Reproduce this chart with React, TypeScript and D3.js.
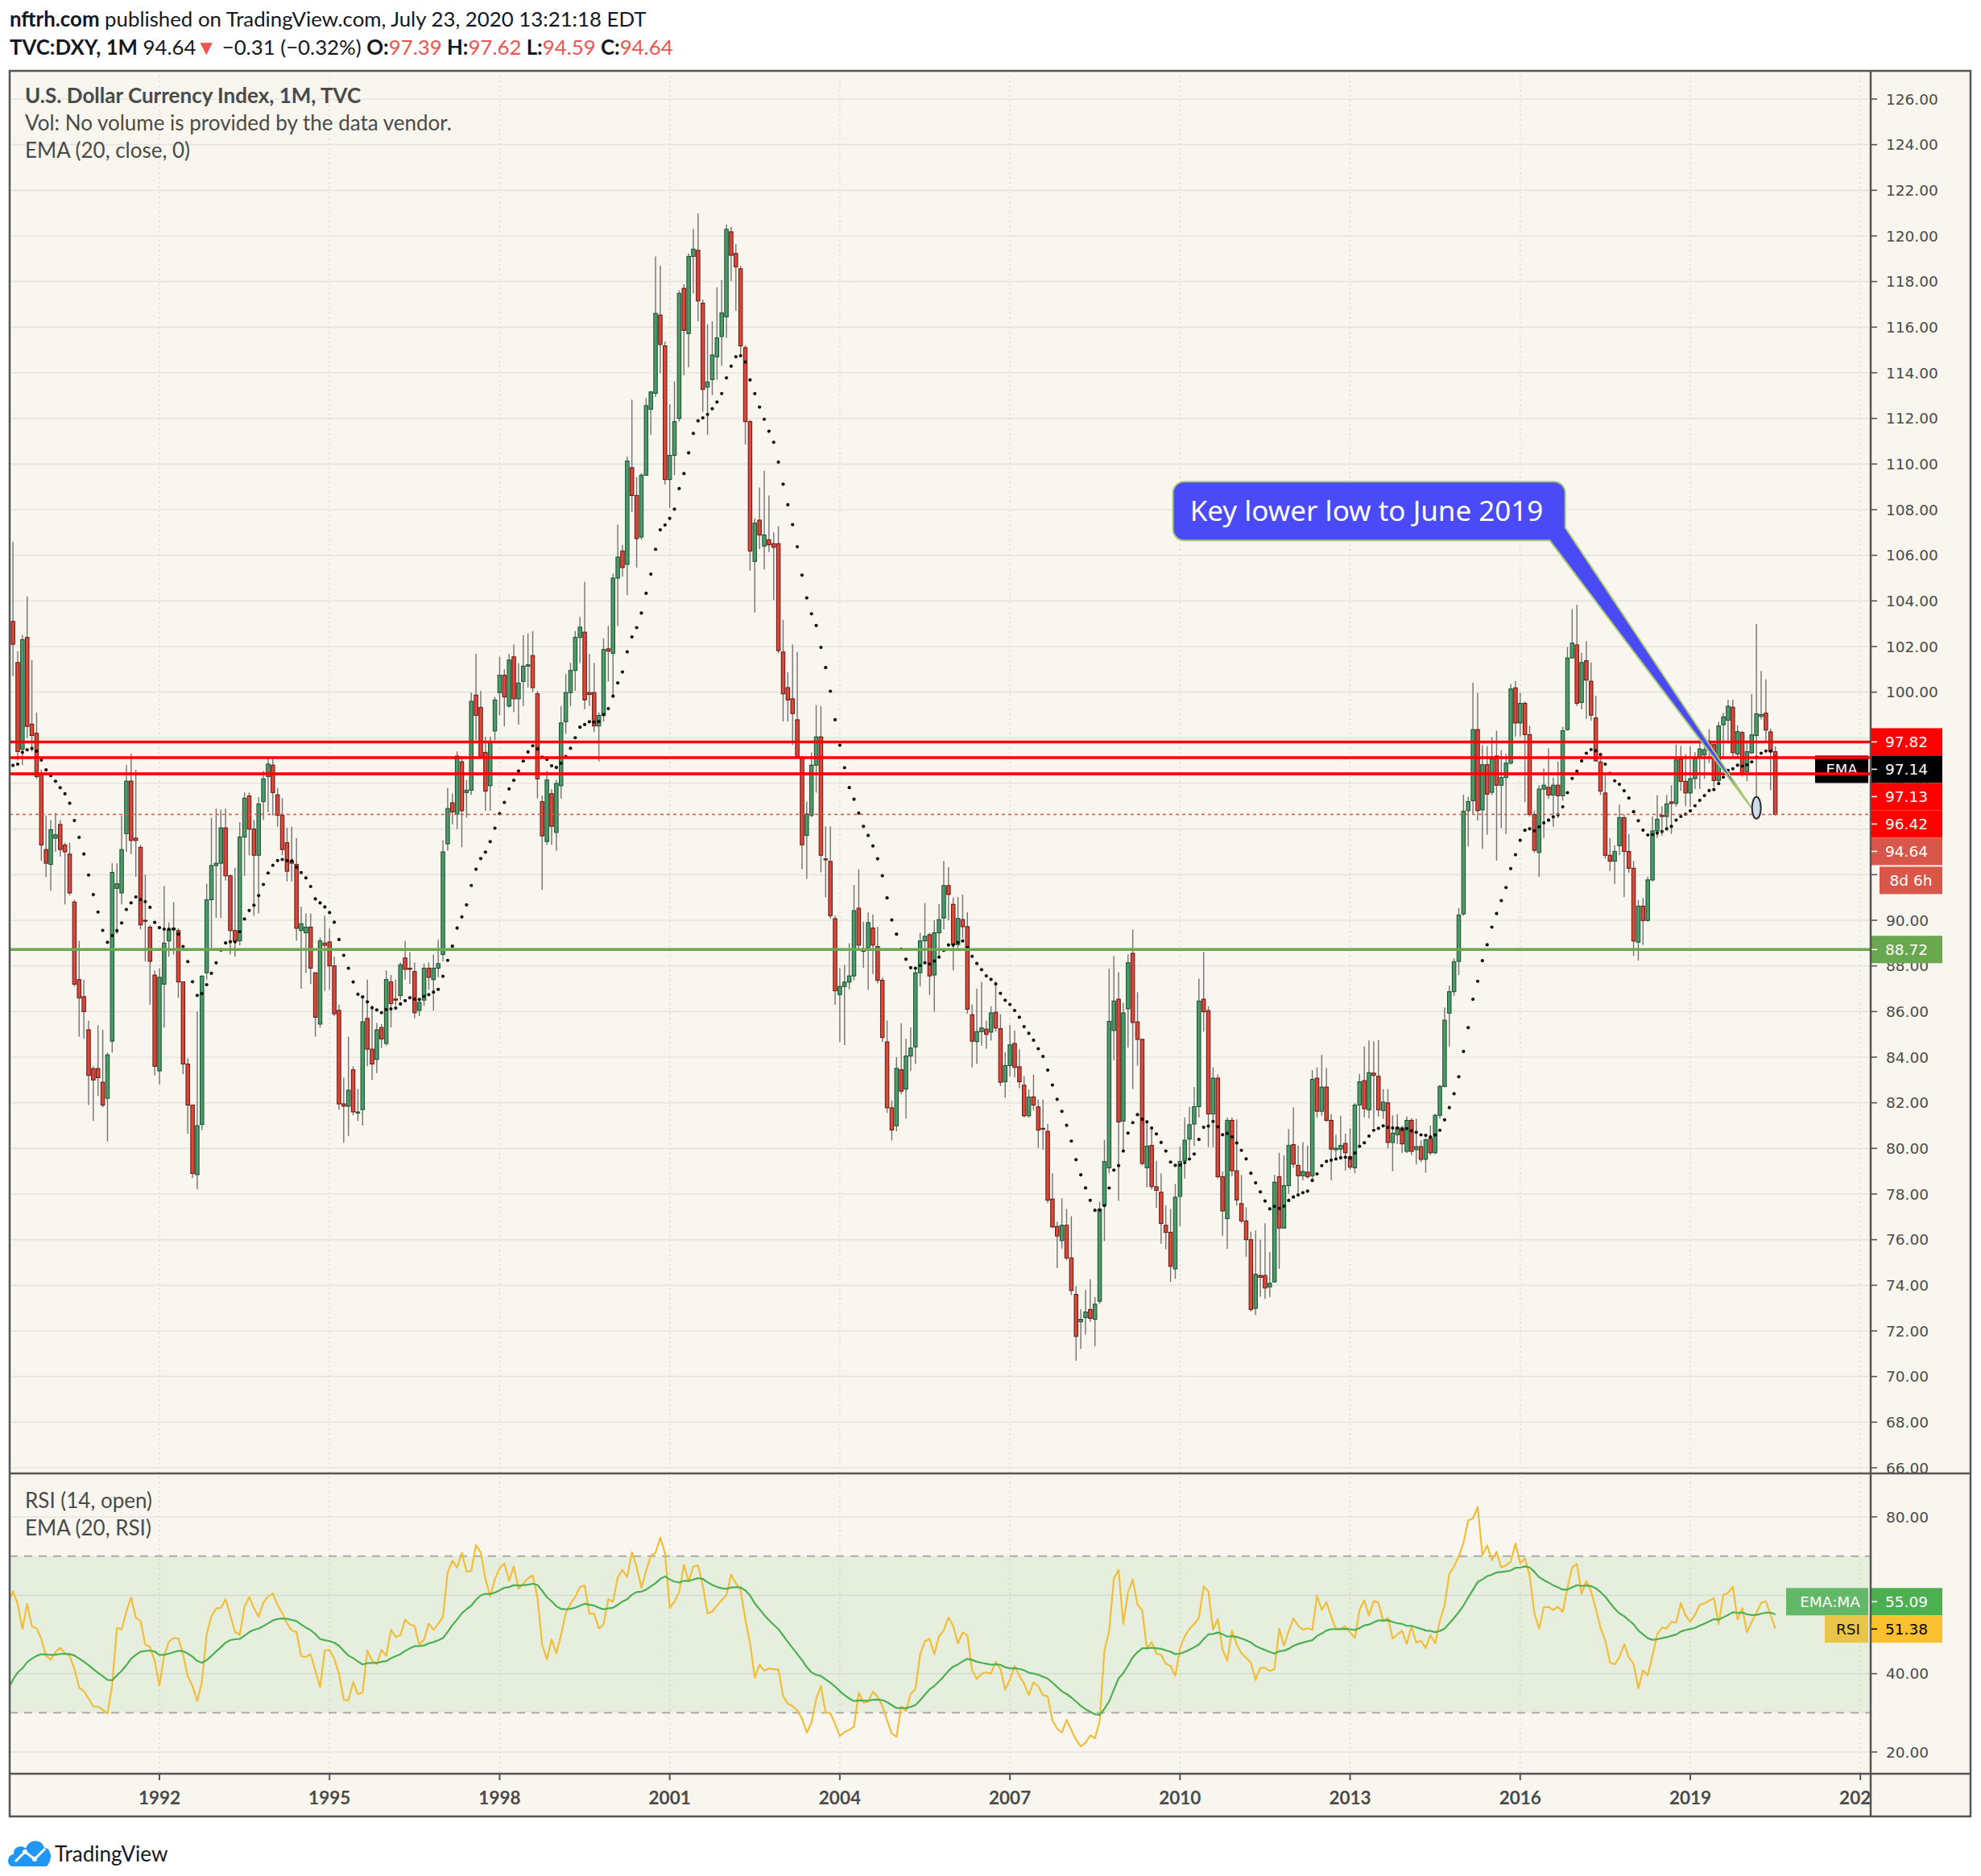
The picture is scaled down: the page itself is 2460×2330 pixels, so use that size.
import React from "react";
import * as d3 from "d3";

// ---------- DATA (monthly DXY, May 1987 .. Jul 2020) ----------
const FIRST_YEAR = 1987;
const FIRST_MONTH = 5;

const opens = [
  93.5, 94.9, 96.2, 98.3, 96.0, 96.9, 91.6, 87.8,
  86.7, 89.7, 89.8, 87.3, 87.2, 90.7, 94.9, 98.8, 100.0, 98.6, 95.1, 91.6,
  94.1, 98.1, 96.2, 100.0, 100.6, 103.1, 101.3, 97.5, 102.4, 98.6, 98.2, 96.4,
  93.1, 92.45, 93.6, 94.2, 93.3, 92.9, 90.8, 87.4, 86.65, 85.2, 83.5, 83.5,
  82.9, 82.2, 84.7, 91.4, 91.2, 93.8, 96.1, 93.6, 93.2, 90.0, 89.7, 87.6,
  83.4, 87.2, 89.1, 89.6, 89.55, 87.3, 83.7, 81.9, 78.85, 81.05, 87.7, 90.9,
  92.4, 92.5, 94.05, 91.95, 89.55, 89.1, 93.65, 95.45, 94.0, 92.85, 95.2, 96.3,
  96.8, 95.5, 94.6, 93.4, 92.6, 92.45, 89.55, 89.45, 89.7, 87.7, 85.45, 89.0,
  89.05, 88.0, 86.05, 81.95, 81.85, 83.45, 81.55, 81.7, 85.7, 84.35, 83.9, 85.3,
  84.6, 87.3, 86.55, 86.7, 88.35, 87.9, 87.75, 86.05, 86.5, 87.9, 87.4, 87.9,
  88.5, 93.35, 95.15, 94.65, 96.95, 95.6, 95.7, 99.87, 99.33, 97.36, 95.9, 98.3,
  99.98, 100.74, 99.39, 101.55, 99.71, 100.47, 101.14, 101.6, 99.93, 95.2, 93.45, 95.55,
  93.85, 95.9, 98.7, 99.98, 100.95, 102.4, 102.63, 99.98, 99.98, 98.52, 98.98, 101.9,
  101.7, 105.0, 106.19, 105.6, 109.84, 108.62, 106.8, 109.51, 112.4, 113.1, 116.53, 115.18,
  109.32, 110.38, 112.0, 117.7, 115.72, 119.1, 119.37, 117.05, 113.37, 113.7, 114.7, 115.59,
  116.45, 120.18, 119.23, 118.56, 115.1, 111.86, 105.73, 107.54, 106.4, 106.68, 106.51, 106.51,
  101.76, 100.2, 99.71, 98.79, 97.09, 93.72, 94.6, 96.8, 98.04, 92.69, 92.58, 90.07,
  86.74, 87.1, 87.29, 87.56, 90.53, 88.7, 88.8, 89.66, 88.85, 87.37, 84.67, 81.78,
  80.99, 83.45, 82.6, 84.05, 84.45, 87.7, 89.1, 89.37, 87.6, 89.45, 90.1, 91.52,
  90.7, 88.93, 90.03, 89.72, 85.86, 84.68, 85.12, 85.23, 85.1, 85.97, 85.25, 82.92,
  83.63, 84.6, 83.58, 82.77, 81.43, 82.26, 81.82, 80.88, 80.75, 77.78, 76.58, 75.96,
  76.63, 75.2, 73.6, 72.4, 72.58, 72.94, 72.51, 73.3, 77.5, 79.15, 85.17, 86.54,
  81.2, 86.12, 88.55, 85.55, 84.78, 79.15, 80.13, 78.32, 78.08, 76.63, 76.32, 74.72,
  77.9, 79.47, 80.41, 81.07, 81.83, 86.54, 86.04, 81.51, 83.08, 78.76, 76.92, 81.23,
  79.02, 77.58, 76.82, 76.0, 72.99, 74.43, 74.43, 73.93, 74.15, 78.76, 76.51, 78.37,
  80.17, 79.26, 78.8, 78.96, 78.8, 83.08, 81.63, 82.69, 81.23, 79.94, 79.97, 80.22,
  79.65, 79.15, 81.9, 82.97, 81.69, 83.3, 83.16, 81.66, 82.0, 80.26, 80.6, 80.9,
  79.87, 81.23, 79.95, 80.08, 79.52, 80.43, 79.81, 81.45, 82.72, 85.93, 86.87, 88.2,
  90.28, 94.81, 95.24, 98.36, 94.84, 96.82, 95.61, 97.2, 95.92, 96.26, 96.89, 100.19,
  98.65, 99.51, 98.14, 94.64, 92.97, 95.75, 95.83, 95.49, 95.92, 95.46, 98.36, 101.5,
  102.07, 99.55, 101.38, 100.48, 98.87, 96.94, 95.58, 92.85, 92.59, 93.27, 94.5, 93.02,
  92.28, 89.04, 90.62, 89.99, 91.77, 93.92, 94.6, 94.55, 95.19, 95.12, 97.06, 96.09,
  95.58, 96.21, 97.12, 97.25, 97.5, 97.7, 96.13, 98.57, 98.77, 99.34, 97.29, 98.23,
  96.52, 97.34, 98.1, 98.94, 99.08, 98.26, 97.39,
];

const highs = [
  95.5, 96.5, 98.8, 99.4, 97.8, 97.6, 92.0, 88.3,
  90.0, 90.6, 90.0, 88.5, 90.9, 95.3, 99.0, 101.5, 101.0, 98.8, 95.5, 94.6,
  98.4, 98.5, 100.4, 101.2, 104.9, 106.6, 101.8, 102.5, 104.2, 101.4, 99.1, 96.6,
  94.6, 94.4, 94.7, 94.4, 93.4, 93.4, 90.9, 89.1, 87.4, 85.6, 83.6, 85.4,
  85.2, 84.2, 92.5, 92.5, 94.6, 96.8, 97.3, 96.6, 93.3, 92.0, 89.8, 87.8,
  87.9, 91.5, 89.9, 90.8, 89.65, 87.3, 83.95, 81.9, 86.0, 87.6, 91.6, 94.5,
  94.9, 94.85, 94.9, 92.0, 92.3, 94.3, 95.6, 95.6, 94.4, 95.4, 96.55, 97.1,
  97.1, 95.8, 95.35, 94.05, 94.1, 93.6, 90.6, 90.3, 90.3, 87.7, 89.25, 90.2,
  89.65, 88.4, 86.3, 83.1, 84.9, 83.6, 82.6, 86.65, 87.4, 86.25, 85.5, 85.45,
  87.8, 87.6, 87.4, 88.15, 89.1, 88.6, 88.15, 86.55, 88.1, 88.15, 88.5, 89.15,
  93.5, 95.8, 95.55, 97.4, 97.2, 96.15, 99.98, 101.68, 100.06, 98.04, 98.04, 99.79,
  101.55, 101.0, 101.68, 102.09, 101.28, 102.49, 102.57, 102.68, 100.06, 95.47, 96.55, 95.74,
  96.15, 99.39, 100.79, 101.28, 102.68, 103.3, 104.84, 101.68, 101.28, 99.12, 102.36, 102.9,
  105.19, 107.35, 106.46, 110.32, 112.83, 109.43, 109.59, 112.89, 113.21, 119.1, 118.69, 115.37,
  112.62, 113.62, 117.61, 117.88, 119.23, 120.31, 120.99, 117.21, 116.13, 116.26, 117.75, 118.07,
  120.5, 120.4, 119.64, 118.69, 115.2, 111.94, 107.62, 108.97, 109.7, 108.62, 107.0, 107.27,
  103.17, 100.87, 102.09, 101.76, 97.2, 95.2, 97.36, 99.44, 99.39, 94.12, 94.12, 90.2,
  87.91, 88.04, 88.99, 91.55, 92.23, 89.93, 90.34, 90.26, 89.72, 87.5, 85.61, 82.1,
  84.0, 85.48, 84.8, 85.3, 87.95, 89.45, 90.75, 89.45, 90.0, 90.71, 92.6, 92.33,
  91.0, 91.02, 91.13, 90.35, 86.3, 87.01, 87.3, 85.6, 86.23, 87.33, 85.88, 84.21,
  85.41, 85.17, 84.34, 83.16, 82.58, 83.24, 82.14, 82.14, 81.07, 78.91, 76.79, 77.81,
  77.35, 77.03, 73.96, 72.94, 73.8, 74.27, 73.48, 77.66, 80.38, 87.88, 88.43, 87.72,
  86.38, 88.5, 89.6, 86.85, 84.81, 81.23, 80.96, 79.46, 78.91, 77.5, 77.35, 78.44,
  80.09, 81.35, 81.82, 82.69, 87.45, 88.61, 86.23, 83.55, 83.24, 78.99, 81.35, 81.35,
  81.27, 78.84, 77.42, 76.35, 76.4, 76.0, 76.71, 75.46, 78.84, 79.81, 79.7, 80.85,
  81.8, 80.13, 80.28, 80.13, 83.43, 83.55, 84.1, 83.52, 81.51, 80.6, 81.43, 80.65,
  80.88, 81.98, 83.27, 84.47, 84.73, 84.7, 84.75, 82.6, 82.6, 81.45, 81.5, 81.0,
  81.4, 81.33, 81.3, 80.35, 80.45, 81.0, 81.52, 82.78, 86.18, 87.13, 88.33, 90.54,
  95.5, 95.41, 100.41, 99.97, 97.68, 97.63, 98.02, 98.31, 97.46, 97.29, 100.36, 100.48,
  99.97, 99.59, 98.53, 94.81, 95.92, 96.65, 97.54, 96.26, 96.95, 98.48, 101.98, 103.64,
  103.83, 101.73, 102.24, 101.3, 99.85, 97.2, 96.43, 93.6, 93.27, 95.07, 94.64, 93.78,
  92.6, 90.88, 90.97, 91.91, 94.55, 95.49, 95.0, 95.49, 95.92, 97.71, 97.63, 97.28,
  97.63, 97.37, 98.0, 97.8, 98.37, 97.8, 98.7, 99.1, 99.67, 99.67, 98.55, 98.3,
  97.9, 99.91, 102.99, 100.93, 100.56, 98.4, 97.62,
];

const lows = [
  92.8, 94.3, 95.8, 95.5, 94.8, 91.2, 87.3, 85.8,
  85.6, 88.5, 86.5, 86.6, 87.0, 90.4, 94.3, 97.8, 97.0, 94.5, 90.9, 91.0,
  93.5, 95.5, 96.0, 98.8, 100.2, 100.7, 97.0, 96.8, 98.0, 97.4, 96.2, 92.6,
  91.9, 91.3, 93.0, 92.8, 90.7, 91.1, 87.1, 84.9, 84.8, 81.9, 81.2, 82.3,
  81.8, 80.3, 84.2, 89.4, 90.7, 93.0, 92.9, 91.9, 89.6, 88.2, 86.3, 83.2,
  82.8, 85.3, 88.4, 88.5, 86.6, 83.25, 80.65, 78.7, 78.2, 80.8, 87.4, 88.7,
  90.1, 90.1, 91.75, 88.5, 88.4, 88.9, 91.95, 92.85, 90.2, 90.3, 94.4, 94.75,
  94.6, 94.1, 92.85, 91.7, 91.7, 89.1, 87.0, 87.7, 87.2, 84.9, 85.3, 86.9,
  86.95, 85.8, 81.7, 80.25, 80.55, 81.45, 81.2, 81.0, 83.6, 83.0, 83.3, 84.4,
  84.5, 85.3, 86.25, 86.5, 87.4, 87.2, 85.7, 85.8, 86.25, 86.95, 86.05, 87.5,
  88.2, 93.05, 94.2, 94.0, 93.2, 94.5, 95.5, 97.9, 97.09, 94.8, 94.8, 97.9,
  98.98, 98.5, 99.33, 99.12, 98.58, 99.39, 100.2, 100.0, 95.34, 91.34, 93.31, 93.31,
  93.04, 95.34, 98.17, 99.39, 100.06, 101.28, 99.25, 99.39, 98.25, 96.96, 98.71, 100.47,
  99.79, 102.9, 105.06, 104.25, 107.89, 105.46, 106.68, 109.51, 111.27, 112.94, 113.97, 109.1,
  108.08, 109.51, 111.86, 113.89, 114.24, 117.48, 116.26, 112.29, 111.27, 113.02, 113.7, 114.3,
  115.53, 118.02, 116.72, 114.72, 110.86, 105.33, 103.49, 106.27, 105.38, 106.14, 104.03, 101.7,
  98.71, 98.71, 97.68, 97.09, 92.23, 91.82, 94.52, 95.6, 92.1, 91.01, 90.07, 86.29,
  84.67, 84.53, 86.96, 87.37, 88.72, 87.91, 86.96, 87.64, 87.23, 84.67, 81.56, 80.35,
  80.75, 82.37, 81.3, 83.4, 83.7, 87.1, 88.1, 86.73, 85.99, 88.43, 89.6, 90.0,
  87.8, 88.8, 89.21, 85.9, 83.55, 83.7, 84.5, 84.37, 84.73, 85.12, 82.73, 82.22,
  83.16, 83.11, 82.64, 81.35, 81.35, 81.67, 80.02, 79.94, 77.6, 76.51, 74.75, 75.61,
  75.1, 73.57, 70.69, 71.21, 71.84, 72.4, 71.32, 73.18, 75.93, 78.9, 83.86, 77.7,
  79.94, 84.42, 82.6, 83.63, 79.25, 78.29, 78.2, 77.39, 75.82, 75.57, 74.15, 74.28,
  76.59, 78.68, 79.62, 80.1, 81.35, 85.12, 80.06, 80.05, 78.68, 76.16, 75.6, 78.79,
  77.5, 76.72, 75.25, 72.85, 72.7, 73.5, 73.4, 73.49, 74.11, 74.72, 76.48, 78.02,
  79.15, 78.05, 78.6, 78.68, 78.6, 81.35, 81.43, 81.16, 78.6, 79.5, 79.5, 79.03,
  79.07, 78.91, 80.07, 81.36, 81.32, 80.9, 81.4, 81.3, 80.0, 79.0, 80.2, 79.8,
  79.8, 79.7, 79.3, 79.4, 78.93, 79.7, 79.75, 81.3, 82.68, 84.47, 86.69, 87.6,
  90.2, 93.24, 94.64, 94.38, 93.13, 93.75, 95.49, 92.62, 94.04, 93.78, 96.83, 98.06,
  98.06, 95.18, 94.55, 92.96, 91.91, 93.61, 95.32, 94.09, 94.47, 95.24, 98.31, 101.5,
  99.39, 99.25, 98.82, 98.74, 96.95, 95.49, 92.7, 92.16, 91.6, 92.85, 91.02, 92.08,
  88.44, 88.23, 88.92, 89.94, 91.7, 93.61, 93.7, 93.96, 93.78, 94.98, 95.67, 95.0,
  94.98, 95.75, 95.75, 96.2, 96.9, 95.84, 95.99, 97.1, 97.8, 97.1, 97.1, 96.3,
  96.1, 97.3, 94.65, 98.81, 97.8, 95.7, 94.59,
];

const closes = [
  94.9, 96.2, 98.3, 96.0, 96.9, 91.6, 87.8, 86.7,
  89.7, 89.8, 87.3, 87.2, 90.7, 94.9, 98.8, 100.0, 98.6, 95.1, 91.6, 94.1,
  98.1, 96.2, 100.0, 100.6, 103.1, 102.1, 97.4, 102.3, 98.5, 98.1, 96.3, 93.3,
  92.5, 93.97, 93.75, 93.1, 93.0, 91.2, 87.2, 86.6, 86.0, 83.2, 83.0, 83.1,
  81.9, 84.1, 92.1, 91.6, 93.1, 96.1, 93.5, 93.5, 89.8, 89.97, 88.2, 83.6,
  87.5, 89.0, 89.6, 89.65, 87.3, 83.7, 81.9, 78.9, 81.0, 87.55, 90.9, 92.4,
  92.5, 94.05, 91.95, 89.55, 89.07, 93.65, 95.35, 94.0, 92.85, 95.1, 96.2, 96.85,
  95.6, 94.6, 93.1, 92.15, 92.5, 89.65, 89.85, 89.7, 87.9, 85.75, 89.1, 88.9,
  88.0, 85.9, 81.95, 81.85, 82.55, 81.6, 81.6, 85.55, 84.35, 83.7, 85.2, 84.8,
  87.4, 86.35, 86.5, 88.05, 87.85, 87.85, 85.95, 86.4, 87.9, 87.5, 87.9, 88.1,
  93.0, 94.9, 94.75, 97.2, 94.8, 95.7, 99.6, 98.98, 97.17, 95.66, 97.8, 99.66,
  100.74, 99.79, 101.41, 99.71, 100.4, 101.14, 101.2, 100.2, 96.2, 93.7, 96.15, 94.12,
  96.0, 98.65, 99.98, 100.95, 102.4, 102.85, 99.66, 99.9, 98.52, 98.98, 101.87, 101.8,
  105.0, 105.92, 105.46, 110.13, 108.62, 106.73, 109.51, 112.56, 113.16, 116.6, 115.24, 109.32,
  110.38, 111.86, 117.48, 115.86, 119.1, 119.42, 117.15, 113.27, 113.6, 114.78, 115.53, 116.62,
  120.29, 119.15, 118.64, 115.18, 111.86, 106.19, 107.41, 106.89, 106.89, 106.46, 106.35, 101.82,
  99.93, 99.66, 99.06, 97.17, 93.31, 94.66, 96.8, 98.04, 92.85, 92.66, 90.2, 86.91,
  87.1, 87.29, 87.56, 90.42, 88.91, 88.64, 89.9, 88.91, 87.37, 84.86, 81.78, 80.81,
  83.51, 82.51, 84.05, 84.4, 87.7, 89.1, 89.3, 87.56, 89.45, 90.03, 91.52, 91.13,
  88.93, 90.08, 89.72, 86.1, 84.7, 85.12, 85.28, 85.0, 85.94, 85.28, 82.9, 83.63,
  84.54, 83.55, 82.92, 81.43, 82.25, 81.9, 80.8, 80.85, 77.73, 76.56, 76.16, 76.63,
  75.2, 73.77, 71.76, 72.51, 72.83, 72.55, 73.17, 77.34, 79.42, 85.57, 86.46, 81.16,
  85.94, 88.14, 85.52, 84.78, 79.34, 80.1, 78.33, 78.16, 76.71, 76.32, 74.83, 77.86,
  79.43, 80.36, 81.04, 81.83, 86.46, 85.99, 81.51, 83.08, 78.76, 77.26, 81.23, 79.02,
  77.74, 76.82, 76.0, 72.94, 74.48, 74.35, 73.88, 74.09, 78.52, 76.51, 78.37, 80.13,
  79.31, 78.8, 78.99, 78.76, 83.03, 81.63, 82.69, 81.23, 79.97, 80.01, 80.13, 79.81,
  79.18, 81.9, 82.92, 81.74, 83.32, 83.2, 81.69, 82.03, 80.26, 80.67, 80.9, 80.2,
  81.23, 79.87, 80.08, 79.52, 80.38, 79.81, 81.45, 82.72, 85.62, 86.87, 88.18, 90.23,
  94.78, 95.2, 98.36, 94.81, 96.82, 95.53, 97.06, 95.92, 96.26, 96.89, 100.14, 98.65,
  99.51, 98.14, 94.64, 93.07, 95.75, 95.92, 95.49, 95.92, 95.46, 98.31, 101.5, 102.15,
  99.51, 101.3, 100.53, 98.99, 96.99, 95.66, 92.85, 92.59, 93.02, 94.5, 93.02, 92.28,
  89.09, 90.62, 89.99, 91.77, 93.92, 94.43, 94.55, 95.1, 95.12, 97.03, 96.09, 95.58,
  96.21, 97.12, 97.51, 97.48, 97.75, 96.13, 98.52, 98.92, 99.38, 97.35, 98.27, 96.39,
  97.39, 98.13, 99.05, 99.02, 98.34, 97.39, 94.64,
];

const priceTicks = d3.range(66, 127, 2);
const rsiTicks = [20, 40, 60, 80];
const rsiBand = [30, 70];
const yearTicks = [1992, 1995, 1998, 2001, 2004, 2007, 2010, 2013, 2016, 2019, 2022];
const redLevels = [97.82, 97.13, 96.42];
const greenLevel = 88.72;
const lastClose = 94.64;
const emaLabelValue = 97.14;
const countdownText = "8d 6h";
const rsiLabelValue = 51.38;
const rsiEmaLabelValue = 55.09;
const calloutText = "Key lower low to June 2019";
const calloutTarget = { year: 2020, month: 3, value: 94.93 };

// ---------- helpers ----------
const monthIdx = (y: number, m: number) => (y - FIRST_YEAR) * 12 + (m - FIRST_MONTH);

// EMA seeded with the first value (price EMA)
function emaSeries(src: (number | null)[], len: number) {
  const a = 2 / (len + 1);
  const out: (number | null)[] = [];
  let prev: number | null = null;
  for (const v of src) {
    if (v == null) { out.push(null); continue; }
    prev = prev == null ? v : a * v + (1 - a) * prev;
    out.push(prev);
  }
  return out;
}
// EMA with a zero start (nz of the previous value), as the RSI-EMA line behaves
function emaZeroSeed(src: (number | null)[], len: number) {
  const a = 2 / (len + 1);
  const out: (number | null)[] = [];
  let prev = 0;
  let started = false;
  for (const v of src) {
    if (v == null) { out.push(null); continue; }
    started = true;
    prev = a * v + (1 - a) * prev;
    out.push(started ? prev : null);
  }
  return out;
}

function rsiSeries(src: number[], len: number) {
  const out: (number | null)[] = [null];
  let ag = 0, al = 0;
  for (let i = 1; i < src.length; i++) {
    const ch = src[i] - src[i - 1];
    const g = Math.max(ch, 0), l = Math.max(-ch, 0);
    if (i <= len) {
      ag += g / len; al += l / len;
      out.push(i === len ? (al === 0 ? 100 : 100 - 100 / (1 + ag / al)) : null);
    } else {
      ag = (ag * (len - 1) + g) / len;
      al = (al * (len - 1) + l) / len;
      out.push(al === 0 ? 100 : 100 - 100 / (1 + ag / al));
    }
  }
  return out;
}

// ---------- layout ----------
const W = 2460, H = 2330;
const FX0 = 12, FX1 = 2447, FY0 = 88, FY1 = 2256;
const PANE_R = 2322;
const PRICE_B = 1830;
const RSI_T = 1831, RSI_B = 2203;
const AXIS_X = 2323;

const FONT = "Lato, 'Open Sans', sans-serif";
const AXFONT = "'DejaVu Sans', Verdana, sans-serif";

export default function App() {
  const n = Math.min(opens.length, highs.length, lows.length, closes.length);
  const idx = d3.range(n);

  const x = d3.scaleLinear()
    .domain([monthIdx(1992, 1), monthIdx(2019, 1)])
    .range([198, 2099]);
  const y = d3.scaleLinear().domain([66, 126]).range([1823, 123]);
  const yr = d3.scaleLinear().domain([20, 80]).range([2176, 1884]);

  const ema = emaSeries(closes.slice(0, n), 20);
  const rsi = rsiSeries(opens.slice(0, n), 14);
  const rsiEma = emaZeroSeed(rsi, 20);

  const rsiLine = d3.line<number>()
    .defined((i) => rsi[i] != null)
    .x((i) => x(i))
    .y((i) => yr(rsi[i] as number));
  const rsiEmaLine = d3.line<number>()
    .defined((i) => rsiEma[i] != null)
    .x((i) => x(i))
    .y((i) => yr(rsiEma[i] as number));

  const bw = 4.4;

  type Lab = { v: number; text: string; fill: string; color: string };
  const labs: Lab[] = [
    { v: redLevels[0], text: redLevels[0].toFixed(2), fill: "#FF0000", color: "#fff" },
    { v: emaLabelValue, text: emaLabelValue.toFixed(2), fill: "#000000", color: "#fff" },
    { v: redLevels[1], text: redLevels[1].toFixed(2), fill: "#FF0000", color: "#fff" },
    { v: redLevels[2], text: redLevels[2].toFixed(2), fill: "#FF0000", color: "#fff" },
    { v: lastClose, text: lastClose.toFixed(2), fill: "#D9574A", color: "#fff" },
  ];
  const LH = 34;
  let prevY = -Infinity;
  const placed = labs.map((l) => {
    const yy = Math.max(y(l.v), prevY + LH);
    prevY = yy;
    return { ...l, yy };
  });
  const lastPlaced = placed[placed.length - 1];

  const rsiLabY = yr(rsiLabelValue);
  const rsiEmaLabY = Math.min(yr(rsiEmaLabelValue), rsiLabY - LH);

  // callout geometry
  const tx = x(monthIdx(calloutTarget.year, calloutTarget.month));
  const ty = y(calloutTarget.value);
  const tipX = tx - 5.5, tipY = ty + 1;
  const bL = tipX - 719, bR = tipX - 232, bT = tipY - 406, bB = tipY - 333;
  const r = 14;
  const calloutPath = `M${bL + r},${bT} H${bR - r} A${r},${r} 0 0 1 ${bR},${bT + r} V${bB - 16} L${tipX},${tipY} L${bR - 19},${bB} H${bL + r} A${r},${r} 0 0 1 ${bL},${bB - r} V${bT + r} A${r},${r} 0 0 1 ${bL + r},${bT} Z`;

  const gridCol = "#E4E4E2";
  const axisCol = "#555555";
  const textCol = "#4A4A4A";

  return (
    <svg width={W} height={H} style={{ position: "absolute", left: 0, top: 0, display: "block" }}
      xmlns="http://www.w3.org/2000/svg">
      <defs>
        <clipPath id="pricePane"><rect x={FX0} y={FY0} width={PANE_R - FX0} height={PRICE_B - FY0} /></clipPath>
        <clipPath id="rsiPane"><rect x={FX0} y={RSI_T} width={PANE_R - FX0} height={RSI_B - RSI_T} /></clipPath>
        <clipPath id="priceAxis"><rect x={AXIS_X} y={FY0} width={FX1 - AXIS_X} height={PRICE_B - FY0} /></clipPath>
        <clipPath id="rsiAxis"><rect x={AXIS_X} y={RSI_T} width={FX1 - AXIS_X} height={RSI_B - RSI_T} /></clipPath>
        <clipPath id="timeAxis"><rect x={FX0} y={RSI_B} width={PANE_R - FX0} height={FY1 - RSI_B} /></clipPath>
      </defs>

      <rect x={0} y={0} width={W} height={H} fill="#ffffff" />

      {/* header */}
      <text x={12} y={33} fontFamily={FONT} fontSize={25.8} fill="#131722">
        <tspan fontWeight={700}>nftrh.com</tspan>
        <tspan> published on TradingView.com, July 23, 2020 13:21:18 EDT</tspan>
      </text>
      <text x={12} y={68} fontFamily={FONT} fontSize={25.8} fill="#131722">
        <tspan fontWeight={700}>TVC:DXY, 1M</tspan>
        <tspan> 94.64</tspan>
        <tspan fill="#EF5350">▼</tspan>
        <tspan> −0.31 (−0.32%) </tspan>
        <tspan fontWeight={700}>O:</tspan><tspan fill="#EF5350">97.39</tspan>
        <tspan fontWeight={700}> H:</tspan><tspan fill="#EF5350">97.62</tspan>
        <tspan fontWeight={700}> L:</tspan><tspan fill="#EF5350">94.59</tspan>
        <tspan fontWeight={700}> C:</tspan><tspan fill="#EF5350">94.64</tspan>
      </text>

      {/* chart background */}
      <rect x={FX0} y={FY0} width={FX1 - FX0} height={FY1 - FY0} fill="#F8F6EE" />

      {/* horizontal grid */}
      {priceTicks.map((t) => (
        <line key={"pg" + t} x1={FX0} x2={PANE_R} y1={y(t)} y2={y(t)} stroke={gridCol} strokeWidth={1.6} clipPath="url(#pricePane)" />
      ))}
      {rsiTicks.map((t) => (
        <line key={"rg" + t} x1={FX0} x2={PANE_R} y1={yr(t)} y2={yr(t)} stroke={gridCol} strokeWidth={1.6} />
      ))}
      {/* vertical dotted grid */}
      {yearTicks.map((yy) => (
        <line key={"vg" + yy} x1={x(monthIdx(yy, 1))} x2={x(monthIdx(yy, 1))} y1={FY0} y2={RSI_B}
          stroke="#DCDCDA" strokeWidth={1.4} strokeDasharray="2,4" />
      ))}

      {/* RSI band */}
      <rect x={FX0} y={yr(rsiBand[1])} width={PANE_R - FX0} height={yr(rsiBand[0]) - yr(rsiBand[1])} fill="rgba(76,175,80,0.10)" />
      {rsiBand.map((b) => (
        <line key={"rb" + b} x1={FX0} x2={PANE_R} y1={yr(b)} y2={yr(b)} stroke="#ABABAB" strokeWidth={2} strokeDasharray="10,8" />
      ))}

      {/* price pane content */}
      <g clipPath="url(#pricePane)">
        {idx.map((i) => {
          const o = opens[i], c = closes[i];
          const up = c >= o;
          const cx = x(i);
          const y1 = y(Math.max(o, c)), y2 = y(Math.min(o, c));
          return (
            <g key={"c" + i}>
              <line x1={cx} x2={cx} y1={y(highs[i])} y2={y(lows[i])} stroke="#737373" strokeWidth={1.4} />
              <rect x={cx - bw / 2} y={y1} width={bw} height={Math.max(1.2, y2 - y1)}
                fill={up ? "#4F9A6A" : "#D9493C"} stroke={up ? "#1D5634" : "#6E1B15"} strokeWidth={1.1} />
            </g>
          );
        })}
        {idx.map((i) => (ema[i] != null ? (
          <circle key={"e" + i} cx={x(i)} cy={y(ema[i] as number)} r={2.1} fill="#111111" />
        ) : null))}
      </g>

      {/* EMA title box (left of axis) */}
      <rect x={2254} y={placed[1].yy - LH / 2} width={66} height={LH} fill="#000000" />
      <text x={2287} y={placed[1].yy + 7} textAnchor="middle" fontFamily={AXFONT} fontSize={18} fill="#ffffff">EMA</text>

      {/* horizontal user lines + callout */}
      <g clipPath="url(#pricePane)">
        <line x1={FX0} x2={PANE_R} y1={y(lastClose)} y2={y(lastClose)} stroke="#D9574A" strokeWidth={1.5} strokeDasharray="4,4" />
        {redLevels.map((v) => (
          <line key={"rl" + v} x1={FX0} x2={PANE_R} y1={y(v)} y2={y(v)} stroke="#FF0000" strokeWidth={3.6} />
        ))}
        <line x1={FX0} x2={PANE_R} y1={y(greenLevel)} y2={y(greenLevel)} stroke="#6AA84F" strokeWidth={3.6} />

        <path d={calloutPath} fill="#4A4AF6" stroke="#A8C874" strokeWidth={2} />
        <text x={bL + 21} y={(bT + bB) / 2 + 12.5} fontFamily="'Noto Sans', 'DejaVu Sans', sans-serif" fontSize={35} fill="#ffffff">{calloutText}</text>
        <ellipse cx={tx} cy={ty} rx={5.5} ry={13.5} fill="#D3DAE8" stroke="#2A2A2A" strokeWidth={2} />
      </g>

      {/* RSI pane */}
      <g clipPath="url(#rsiPane)">
        <path d={rsiLine(idx) || ""} fill="none" stroke="#F2BD3A" strokeWidth={2.2} strokeLinejoin="round" />
        <path d={rsiEmaLine(idx) || ""} fill="none" stroke="#4CAF50" strokeWidth={2.2} strokeLinejoin="round" />
      </g>

      {/* legends */}
      <text x={31} y={128} fontFamily={FONT} fontSize={26} fontWeight={700} fill={textCol}>U.S. Dollar Currency Index, 1M, TVC</text>
      <text x={31} y={162} fontFamily={FONT} fontSize={26} fill={textCol}>Vol: No volume is provided by the data vendor.</text>
      <text x={31} y={196} fontFamily={FONT} fontSize={26} fill={textCol}>EMA (20, close, 0)</text>
      <text x={31} y={1873} fontFamily={FONT} fontSize={26} fill={textCol}>RSI (14, open)</text>
      <text x={31} y={1907} fontFamily={FONT} fontSize={26} fill={textCol}>EMA (20, RSI)</text>

      {/* price axis ticks */}
      <g clipPath="url(#priceAxis)">
        {priceTicks.map((t) => (
          <g key={"pt" + t}>
            <line x1={AXIS_X} x2={AXIS_X + 8} y1={y(t)} y2={y(t)} stroke={axisCol} strokeWidth={1.6} />
            <text x={2342} y={y(t) + 6.6} fontFamily={AXFONT} fontSize={18.5} fill={textCol}>{d3.format(".2f")(t)}</text>
          </g>
        ))}
        {placed.map((l) => (
          <g key={"lab" + l.text + l.fill}>
            <rect x={2322} y={l.yy - LH / 2} width={90} height={LH} fill={l.fill} />
            <line x1={AXIS_X} x2={AXIS_X + 8} y1={l.yy} y2={l.yy} stroke={l.color} strokeWidth={1.6} />
            <text x={2341} y={l.yy + 6.8} fontFamily={AXFONT} fontSize={18.5} fill={l.color}>{l.text}</text>
          </g>
        ))}
        <rect x={2334} y={lastPlaced.yy + LH / 2 + 2} width={78} height={LH} fill="#D9574A" />
        <text x={2373} y={lastPlaced.yy + LH + 8.8} textAnchor="middle" fontFamily={AXFONT} fontSize={18.5} fill="#ffffff">{countdownText}</text>
        <rect x={2322} y={y(greenLevel) - LH / 2} width={90} height={LH} fill="#6AA84F" />
        <line x1={AXIS_X} x2={AXIS_X + 8} y1={y(greenLevel)} y2={y(greenLevel)} stroke="#ffffff" strokeWidth={1.6} />
        <text x={2341} y={y(greenLevel) + 6.8} fontFamily={AXFONT} fontSize={18.5} fill="#ffffff">{greenLevel.toFixed(2)}</text>
      </g>

      {/* RSI axis */}
      <g clipPath="url(#rsiAxis)">
        {rsiTicks.map((t) => (
          <g key={"rt" + t}>
            <line x1={AXIS_X} x2={AXIS_X + 8} y1={yr(t)} y2={yr(t)} stroke={axisCol} strokeWidth={1.6} />
            <text x={2342} y={yr(t) + 6.6} fontFamily={AXFONT} fontSize={18.5} fill={textCol}>{d3.format(".2f")(t)}</text>
          </g>
        ))}
        <rect x={2322} y={rsiEmaLabY - LH / 2} width={90} height={LH} fill="#4CAF50" />
        <line x1={AXIS_X} x2={AXIS_X + 8} y1={rsiEmaLabY} y2={rsiEmaLabY} stroke="#ffffff" strokeWidth={1.6} />
        <text x={2341} y={rsiEmaLabY + 6.8} fontFamily={AXFONT} fontSize={18.5} fill="#ffffff">{rsiEmaLabelValue.toFixed(2)}</text>
        <rect x={2322} y={rsiLabY - LH / 2} width={90} height={LH} fill="#FBC02D" />
        <line x1={AXIS_X} x2={AXIS_X + 8} y1={rsiLabY} y2={rsiLabY} stroke="#000000" strokeWidth={1.6} />
        <text x={2341} y={rsiLabY + 6.8} fontFamily={AXFONT} fontSize={18.5} fill="#000000">{rsiLabelValue.toFixed(2)}</text>
      </g>
      <rect x={2218} y={rsiEmaLabY - LH / 2} width={102} height={LH} fill="#62B866" />
      <text x={2310} y={rsiEmaLabY + 6.8} textAnchor="end" fontFamily={AXFONT} fontSize={18.5} fill="#ffffff">EMA:MA</text>
      <rect x={2266} y={rsiLabY - LH / 2} width={54} height={LH} fill="#E8C547" />
      <text x={2310} y={rsiLabY + 6.8} textAnchor="end" fontFamily={AXFONT} fontSize={18.5} fill="#111111">RSI</text>

      {/* time axis */}
      <g clipPath="url(#timeAxis)">
        {yearTicks.map((yy) => (
          <g key={"xt" + yy}>
            <line x1={x(monthIdx(yy, 1))} x2={x(monthIdx(yy, 1))} y1={RSI_B} y2={RSI_B + 8} stroke={axisCol} strokeWidth={2} />
            <text x={x(monthIdx(yy, 1))} y={2241} textAnchor="middle" fontFamily={FONT} fontWeight={700} fontSize={22.5} fill={textCol}>{String(yy)}</text>
          </g>
        ))}
      </g>

      {/* frame & separators */}
      <line x1={FX0} x2={FX1} y1={PRICE_B} y2={PRICE_B} stroke={axisCol} strokeWidth={2.5} />
      <line x1={FX0} x2={FX1} y1={RSI_B} y2={RSI_B} stroke={axisCol} strokeWidth={2.5} />
      <line x1={AXIS_X} x2={AXIS_X} y1={FY0} y2={FY1} stroke={axisCol} strokeWidth={2.5} />
      <rect x={FX0} y={FY0} width={FX1 - FX0} height={FY1 - FY0} fill="none" stroke={axisCol} strokeWidth={2.5} />

      {/* TradingView logo */}
      <g>
        <path d="M16,2318 C8,2318 8,2304 17,2303 C16,2294 27,2290 32,2296 C35,2284 52,2283 55,2295 C64,2295 66,2310 58,2318 Z" fill="#2196F3" />
        <polyline points="19,2312 31,2300 43,2309 56,2296" fill="none" stroke="#ffffff" strokeWidth={3} strokeLinejoin="round" />
        <circle cx={31} cy={2300} r={3} fill="#ffffff" />
        <circle cx={43} cy={2309} r={3} fill="#ffffff" />
        <text x={68} y={2312} fontFamily={FONT} fontSize={26} fill="#131722">TradingView</text>
      </g>
    </svg>
  );
}
